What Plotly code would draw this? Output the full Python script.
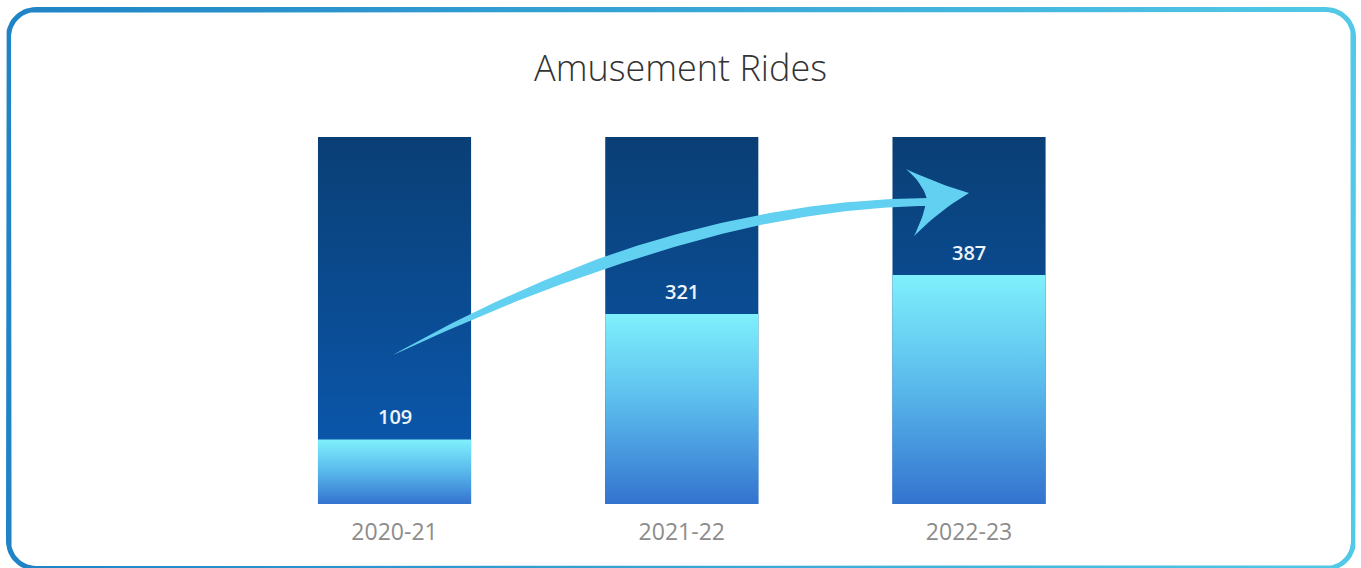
import numpy as np
import plotly.graph_objects as go

# ---------------- data ----------------
categories = ["2020-21", "2021-22", "2022-23"]
values = [109, 321, 387]
column_max = [620, 620, 620]          # height of the dark background columns
chart_title = "Amusement Rides"

# ---------------- layout constants ----------------
FIG_W, FIG_H = 1361, 568
PLOT_L, PLOT_W = 250.9, 861.75
PLOT_T, PLOT_B = 100, 504
PX_PER_UNIT = 0.5919
BAR_W = 0.533

DARK_SCALE = [[0, "#0B5BB5"], [1, "#0A3F75"]]
LIGHT_SCALE = [[0, "#3373CF"], [0.55, "#5CBEED"], [1, "#7FF0FC"]]
ARROW_COLOR = "#62D0F0"

fig = go.Figure()

# columns
for i, (v, m) in enumerate(zip(values, column_max)):
    x0, x1 = i - BAR_W / 2, i + BAR_W / 2
    fig.add_trace(go.Scatter(
        x=[x0, x1, x1, x0, x0], y=[0, 0, m, m, 0],
        mode="lines", line=dict(width=0), fill="toself",
        fillgradient=dict(type="vertical", colorscale=DARK_SCALE, start=0, stop=m),
        hoverinfo="skip", showlegend=False, xaxis="x", yaxis="y"))
    fig.add_trace(go.Scatter(
        x=[x0, x1, x1, x0, x0], y=[0, 0, v, v, 0],
        mode="lines", line=dict(width=0), fill="toself",
        fillgradient=dict(type="vertical", colorscale=LIGHT_SCALE, start=0, stop=v),
        hoverinfo="skip", showlegend=False, xaxis="x", yaxis="y"))

annotations = []
for i, v in enumerate(values):
    annotations.append(dict(
        x=i, y=v, xref="x", yref="y", text=str(v), showarrow=False,
        yanchor="bottom", yshift=7,
        font=dict(family="Open Sans", size=20, color="#EEF4FA", weight=600)))

# ---------------- decorations (pixel overlay) ----------------
def rounded_rect(x0, y0, x1, y1, r, n=16, reverse=False):
    pts = []
    corners = [
        (x1 - r, y0 + r, -90, 0),
        (x1 - r, y1 - r, 0, 90),
        (x0 + r, y1 - r, 90, 180),
        (x0 + r, y0 + r, 180, 270),
    ]
    for cx, cy, a0, a1 in corners:
        for a in np.linspace(np.radians(a0), np.radians(a1), n):
            pts.append((cx + r * np.cos(a), cy + r * np.sin(a)))
    pts.append(pts[0])
    if reverse:
        pts = pts[::-1]
    return pts

outer = rounded_rect(6, 7, 1356, 571, 30)
inner = rounded_rect(11, 12, 1351, 566, 25, reverse=True)
ring = outer + inner + [outer[0]]
fig.add_trace(go.Scatter(
    x=[p[0] for p in ring], y=[p[1] for p in ring],
    mode="lines", line=dict(width=0), fill="toself",
    fillgradient=dict(type="horizontal", colorscale=[[0, "#1F83C5"], [1, "#52C9E6"]]),
    hoverinfo="skip", showlegend=False, xaxis="x2", yaxis="y2"))

# arrow shaft (tapered brush stroke)
guide = np.array([(393, 353), (470, 322), (597, 264), (620, 255),
                  (750, 224), (900, 204), (928, 200.5)])
coef = np.polyfit(guide[:, 0], guide[:, 1], 3)
xs = np.linspace(393, 928, 120)
ys = np.polyval(coef, xs)
dys = np.polyval(np.polyder(coef), xs)
wid = np.interp(xs, [393, 470, 600, 660, 760, 900, 928], [0.3, 6, 12, 12, 10, 8, 8])
nx = -dys / np.sqrt(1 + dys ** 2)
ny = 1 / np.sqrt(1 + dys ** 2)
ux, uy = xs + nx * wid / 2, ys + ny * wid / 2
lx, ly = xs - nx * wid / 2, ys - ny * wid / 2
sx = np.concatenate([ux, lx[::-1], ux[:1]])
sy = np.concatenate([uy, ly[::-1], uy[:1]])
fig.add_trace(go.Scatter(x=sx, y=sy, mode="lines", line=dict(width=0), fill="toself",
                         fillcolor=ARROW_COLOR, hoverinfo="skip", showlegend=False,
                         xaxis="x2", yaxis="y2"))

# arrow head
def quad(p0, c, p1, n=12):
    t = np.linspace(0, 1, n)[:, None]
    p0, c, p1 = map(np.array, (p0, c, p1))
    return (1 - t) ** 2 * p0 + 2 * (1 - t) * t * c + t ** 2 * p1

tip, up, notch, low = (969, 193), (906, 169), (927, 199), (914, 236)
head = np.vstack([np.array([tip]), quad(tip, (938, 184), up), quad(up, (922, 182), notch),
                  quad(notch, (924, 216), low), quad(low, (940, 210), tip)])
fig.add_trace(go.Scatter(x=head[:, 0], y=head[:, 1], mode="lines", line=dict(width=0),
                         fill="toself", fillcolor=ARROW_COLOR, hoverinfo="skip",
                         showlegend=False, xaxis="x2", yaxis="y2"))

fig.update_layout(
    width=FIG_W, height=FIG_H,
    margin=dict(l=0, r=0, t=0, b=0),
    paper_bgcolor="white", plot_bgcolor="rgba(0,0,0,0)",
    title=dict(text=chart_title, x=0.5, xanchor="center", y=1 - 68 / FIG_H, yanchor="middle",
               font=dict(family="Open Sans", size=36, color="#333333", weight=300)),
    xaxis=dict(domain=[PLOT_L / FIG_W, (PLOT_L + PLOT_W) / FIG_W], range=[-0.5, 2.5],
               tickvals=list(range(len(categories))), ticktext=categories,
               showgrid=False, zeroline=False, showline=False, ticks="",
               ticklabelstandoff=12,
               tickfont=dict(family="Open Sans", size=23, color="#8C8C8C"),
               fixedrange=True),
    yaxis=dict(domain=[1 - PLOT_B / FIG_H, 1 - PLOT_T / FIG_H],
               range=[0, (PLOT_B - PLOT_T) / PX_PER_UNIT], visible=False, fixedrange=True),
    xaxis2=dict(domain=[0, 1], range=[0, FIG_W], visible=False, anchor="y2", fixedrange=True),
    yaxis2=dict(domain=[0, 1], range=[FIG_H, 0], visible=False, anchor="x2", fixedrange=True),
    annotations=annotations,
    showlegend=False,
)

fig.write_html("out.html", config={"displayModeBar": False})
